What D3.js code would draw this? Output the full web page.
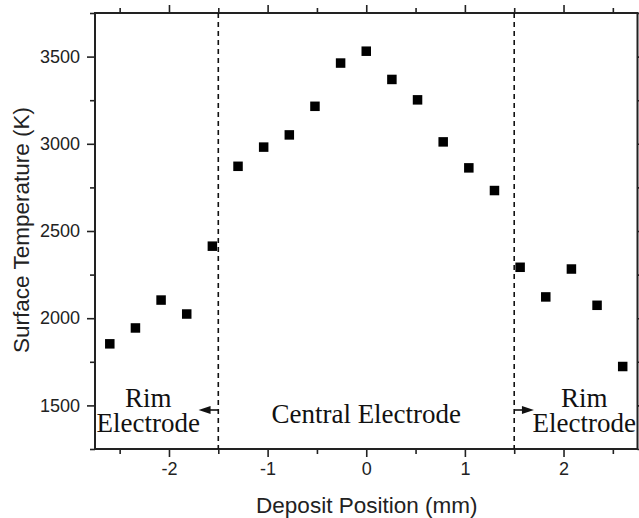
<!DOCTYPE html>
<html>
<head>
<meta charset="utf-8">
<script src="https://cdn.jsdelivr.net/npm/d3@7"></script>
<style>
  body { margin: 0; background: #fff; }
  .axis text { font-family: "Liberation Sans", Arial, sans-serif; font-size: 18px; fill: #222; }
  .axis path { display: none; }
  .axis line { stroke: #222; stroke-width: 1.6; }
  .note { font-family: "Liberation Serif", "Times New Roman", serif; font-size: 27px; fill: #111; }
</style>
</head>
<body>
<div class="svg"></div>
<script>
// deposit positions (mm) and measured surface temperature (K)
var positions = [-2.6, -2.34, -2.08, -1.82, -1.56, -1.3, -1.04, -0.78, -0.52, -0.26, 0,
                 0.26, 0.52, 0.78, 1.04, 1.3, 1.56, 1.82, 2.08, 2.34, 2.6];
var temps = [1853, 1944, 2104, 2024, 2413, 2871, 2981, 3051, 3215, 3463, 3531,
             3369, 3252, 3011, 2862, 2732, 2292, 2122, 2282, 2074, 1723];

var xTicks = [-2, -1, 0, 1, 2];
var xMinor = [-2.5, -1.5, -0.5, 0.5, 1.5, 2.5];
var yTicks = [1500, 2000, 2500, 3000, 3500];
var yMinor = [1250, 1750, 2250, 2750, 3250, 3750];
var boundaries = [-1.5, 1.5];

var width = 639, height = 518;
var margin = {top: 13, right: 1.5, bottom: 69, left: 95};
var w = width - margin.left - margin.right,
    h = height - margin.top - margin.bottom;

var x = d3.scaleLinear().domain([-2.75, 2.75]).range([0, w]);
var y = d3.scaleLinear().domain([1250, 3750]).range([h, 0]);

var svg = d3.select(".svg").append("svg")
    .attr("width", width)
    .attr("height", height)
  .append("g")
    .attr("transform", "translate(" + margin.left + "," + margin.top + ")");

// plain labels with a hyphen minus, like the original
var fmt = function(d){ return String(d); };

// axes: labelled ticks outside on left/bottom, mirrored inside on top/right
function addAxis(axisFn, scale, vals, size, label, pad, transform) {
    var a = axisFn(scale).tickValues(vals).tickSize(size).tickPadding(pad);
    a.tickFormat(label ? fmt : "");
    svg.append("g").attr("class", "axis").attr("transform", transform || null).call(a);
}
addAxis(d3.axisBottom, x, xTicks, 8, true, 5, "translate(0," + h + ")");
addAxis(d3.axisBottom, x, xMinor, 5, false, 5, "translate(0," + h + ")");
addAxis(d3.axisLeft, y, yTicks, 8, true, 7);
addAxis(d3.axisLeft, y, yMinor, 5, false, 7);
addAxis(d3.axisBottom, x, xTicks, -8, false, 5);
addAxis(d3.axisBottom, x, xMinor, -5, false, 5);
addAxis(d3.axisLeft, y, yTicks, -8, false, 5, "translate(" + w + ",0)");
addAxis(d3.axisLeft, y, yMinor, -5, false, 5, "translate(" + w + ",0)");

// frame
svg.append("rect")
    .attr("width", w).attr("height", h)
    .attr("fill", "none")
    .attr("stroke", "#222")
    .attr("stroke-width", 2);

// dashed region boundaries
svg.selectAll(".bound").data(boundaries).enter().append("line")
    .attr("x1", function(d){ return x(d); }).attr("x2", function(d){ return x(d); })
    .attr("y1", 0).attr("y2", h)
    .attr("stroke", "#111")
    .attr("stroke-width", 1.6)
    .attr("stroke-dasharray", "5,4");

// points
var sz = 9.5;
svg.selectAll(".pt").data(positions).enter().append("rect")
    .attr("x", function(d){ return x(d) - sz / 2; })
    .attr("y", function(d, i){ return y(temps[i]) - sz / 2; })
    .attr("width", sz).attr("height", sz)
    .attr("fill", "#000");

// annotations
svg.append("text").attr("class", "note").attr("text-anchor", "middle")
    .attr("x", x(0)).attr("y", h - 26).text("Central Electrode");
[-2.21, 2.21].forEach(function(cx){
    var t = svg.append("text").attr("class", "note").attr("text-anchor", "middle")
        .attr("y", h - 42);
    t.append("tspan").attr("x", x(cx)).text("Rim");
    t.append("tspan").attr("x", x(cx)).attr("dy", 25).text("Electrode");
});

// arrows pointing out of the central region
var ay = h - 39;
[[-1.5, -1.7], [1.5, 1.7]].forEach(function(a){
    var x0 = x(a[0]), x1 = x(a[1]), dir = x1 > x0 ? 1 : -1;
    svg.append("line")
        .attr("x1", x0).attr("x2", x1 - dir * 8)
        .attr("y1", ay).attr("y2", ay)
        .attr("stroke", "#111").attr("stroke-width", 1.6);
    svg.append("path")
        .attr("d", "M" + x1 + "," + ay + "L" + (x1 - dir * 12) + "," + (ay - 4) + "L" + (x1 - dir * 12) + "," + (ay + 4) + "Z")
        .attr("fill", "#111");
});

// axis titles
svg.append("text")
    .attr("x", w / 2 + 0.5).attr("y", h + 64)
    .attr("text-anchor", "middle")
    .style("font-family", "'Liberation Sans', Arial, sans-serif")
    .style("font-size", "22.5px").style("fill", "#222")
    .text("Deposit Position (mm)");
svg.append("text")
    .attr("transform", "translate(" + (29 - margin.left) + "," + (230 - margin.top) + ")rotate(-90)")
    .attr("text-anchor", "middle")
    .style("font-family", "'Liberation Sans', Arial, sans-serif")
    .style("font-size", "22.5px").style("fill", "#222")
    .text("Surface Temperature (K)");
</script>
</body>
</html>
